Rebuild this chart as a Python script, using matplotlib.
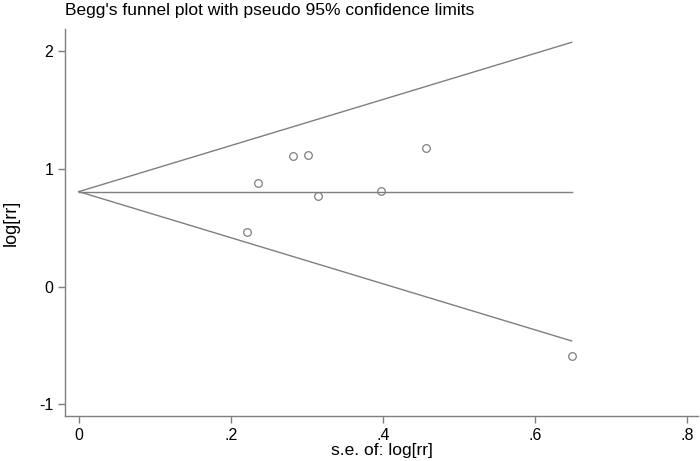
import numpy as np
import matplotlib.pyplot as plt

plt.rcParams['font.family'] = ['Liberation Sans', 'DejaVu Sans']
plt.rcParams['axes.unicode_minus'] = False

# study data: standard error and log risk ratio
se = [0.281, 0.302, 0.456, 0.236, 0.3145, 0.397, 0.221, 0.648]
logrr = [1.107, 1.121, 1.181, 0.880, 0.767, 0.815, 0.461, -0.592]
pooled = 0.807

xticks = [0, 0.2, 0.4, 0.6, 0.8]
xticklabels = ['0', '.2', '.4', '.6', '.8']
yticks = [-1, 0, 1, 2]

grey = '#7f7f7f'

fig = plt.figure(figsize=(7, 4.61), dpi=100)
ax = fig.add_axes([0.093, 0.098, 0.904, 0.839])

smax = max(se)
s = np.array([0, smax])
ax.plot(s, pooled + 1.96 * s, color=grey, lw=1)
ax.plot(s, pooled - 1.96 * s, color=grey, lw=1)
ax.plot(s, [pooled, pooled], color=grey, lw=1)
ax.plot(se, logrr, 'o', mfc='none', mec=grey, ms=5.5, mew=0.9)

ax.set_xlim(-0.018, 0.814)
ax.set_ylim(-1.10, 2.19)
ax.set_xticks(xticks)
ax.set_xticklabels(xticklabels)
ax.set_yticks(yticks)

for side in ['top', 'right']:
    ax.spines[side].set_visible(False)
for side in ['left', 'bottom']:
    ax.spines[side].set_color(grey)
    ax.spines[side].set_linewidth(1)
ax.tick_params(colors=grey, labelcolor='black', labelsize=11.5, length=5, width=1)

ax.set_xlabel('s.e. of: log[rr]', fontsize=12.5, labelpad=0)
ax.set_ylabel('log[rr]', fontsize=13, labelpad=14)
ax.set_title("Begg's funnel plot with pseudo 95% confidence limits",
             loc='left', fontsize=12.5, pad=10)

fig.savefig('out.png', dpi=100)
